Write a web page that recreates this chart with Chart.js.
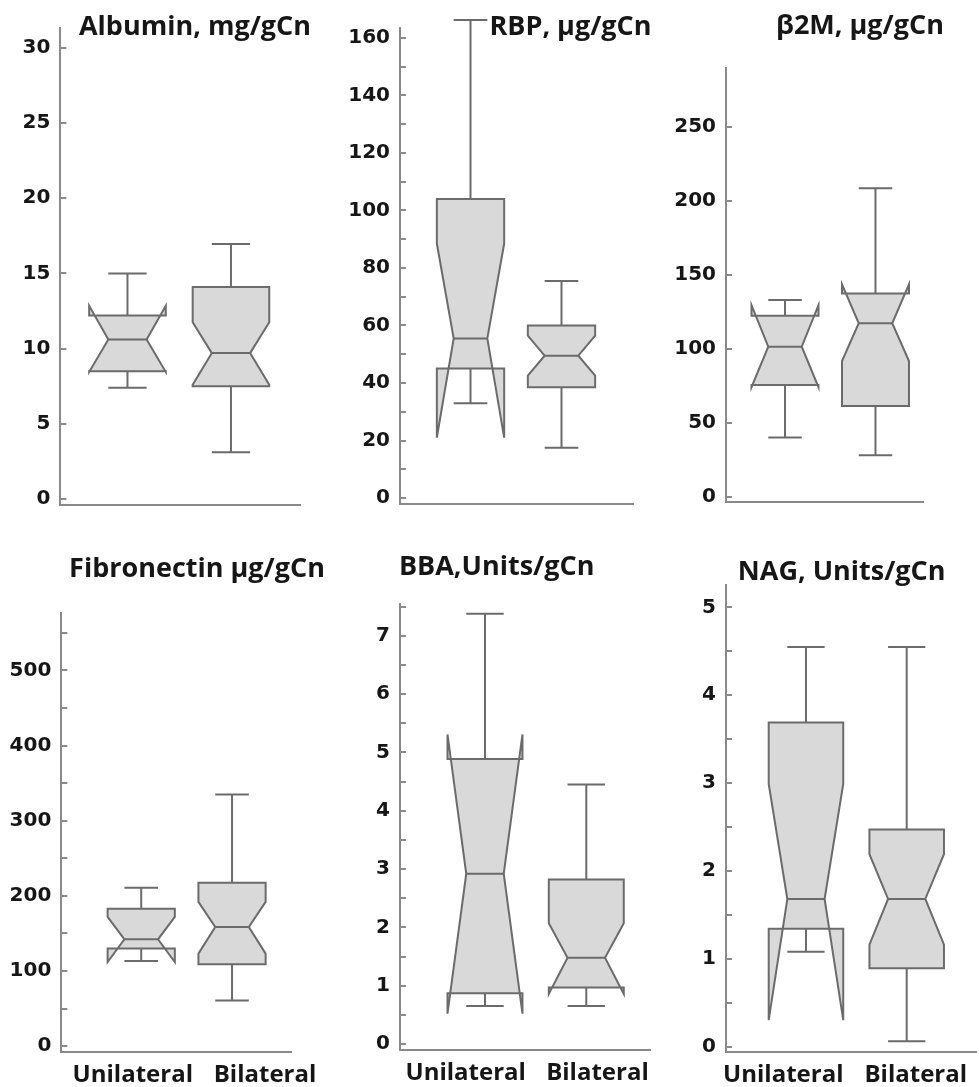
<!DOCTYPE html>
<html>
<head>
<meta charset="utf-8">
<script src="https://cdn.jsdelivr.net/npm/chart.js@4.4.1/dist/chart.umd.min.js"></script>
<style>
  html, body { margin: 0; padding: 0; background: #fff; }
  #wrap { position: relative; width: 979px; height: 1087px; }
  #wrap canvas { position: absolute; left: 0; top: 0; }
</style>
</head>
<body>
<div id="wrap"></div>
<script>
const groups = ["Unilateral", "Bilateral"];
const titles = ["Albumin, mg/gCn", "RBP, µg/gCn", "β2M, µg/gCn",
  "Fibronectin µg/gCn", "BBA,Units/gCn", "NAG, Units/gCn"];

// one pair per panel: [Unilateral, Bilateral]
const whiskerLow  = [[7.4, 3.1], [33, 17.5], [40, 28], [113.5, 61], [0.65, 0.65], [1.08, 0.06]];
const quart1      = [[8.5, 7.5], [45, 38.5], [75.5, 61.3], [130, 109], [0.87, 0.97], [1.34, 0.89]];
const notchLow    = [[8.45, 7.6], [21, 42.6], [74, 91.7], [112, 123.2], [0.52, 0.86], [0.3, 1.16]];
const medians     = [[10.6, 9.7], [55.5, 49.5], [101.4, 117.2], [142.3, 158.7], [2.92, 1.48], [1.68, 1.68]];
const notchHigh   = [[12.85, 11.75], [88.5, 56.5], [129.5, 143.5], [172, 192], [5.31, 2.07], [2.99, 2.19]];
const quart3      = [[12.2, 14.1], [104, 60], [122.3, 137.4], [183, 217.6], [4.89, 2.82], [3.69, 2.47]];
const whiskerHigh = [[15, 16.95], [166.2, 75.5], [133, 208.4], [211, 335], [7.38, 4.45], [4.55, 4.55]];

const yMajor = [
  [0, 5, 10, 15, 20, 25, 30],
  [0, 20, 40, 60, 80, 100, 120, 140, 160],
  [0, 50, 100, 150, 200, 250],
  [0, 100, 200, 300, 400, 500],
  [0, 1, 2, 3, 4, 5, 6, 7],
  [0, 1, 2, 3, 4, 5]
];
const yMinor = [
  [],
  [10, 30, 50, 70, 90, 110, 130, 150],
  [],
  [50, 150, 250, 350, 450, 550],
  [0.5, 1.5, 2.5, 3.5, 4.5, 5.5, 6.5, 7.5],
  [0.5, 1.5, 2.5, 3.5, 4.5]
];

// layout: plot area in page px [left, top, right, bottom], axis ranges, title anchor
const plotBox = [[60.3, 25, 300, 505], [400, 26, 633, 504], [726, 68, 923, 502],
  [61.3, 613.4, 291.7, 1052], [400, 603.8, 650, 1050], [726, 585, 976.7, 1051.8]];
const yRange = [[-0.4, 31.32], [-2.08, 163.46], [-3.58, 289.7],
  [-7.6, 575.7], [-0.103, 7.55], [-0.06, 5.255]];
const xRange = [[0.351, 2.667], [0.225, 2.786], [0.348, 2.525],
  [0.12, 2.657], [0.161, 2.629], [0.206, 2.695]];
const titleAt = [[195, 35], [570.5, 35], [860, 34], [197, 577], [496.7, 575.4], [841.7, 579.7]];
const labelAt = [null, null, null, [0.907, 2.363], [0.81, 2.11], [0.775, 2.09]];

const textColor = "#161616";
const axisColor = "#8a8a8a";
const boxLine = "#6b6b6b";
const boxFill = "#d9d9d9";

Chart.defaults.font.family = "DejaVu Sans";

const notchBoxes = {
  id: "notchBoxes",
  afterDatasetsDraw(chart, args, opts) {
    const { ctx, scales: { x, y } } = chart;
    const py = v => y.getPixelForValue(v);
    chart.data.datasets[0].data.forEach(b => {
      const xc = x.getPixelForValue(b.x);
      const half = x.getPixelForValue(b.x + opts.boxWidth / 2) - xc;
      const xl = xc - half, xr = xc + half;
      const inL = xc - half / 2, inR = xc + half / 2;
      ctx.save();
      ctx.lineWidth = 2;
      ctx.strokeStyle = boxLine;
      ctx.fillStyle = boxFill;
      ctx.lineJoin = "miter";
      ctx.beginPath();
      ctx.moveTo(xl, py(b.q1));
      ctx.lineTo(xl, py(b.nlo));
      ctx.lineTo(inL, py(b.med));
      ctx.lineTo(xl, py(b.nhi));
      ctx.lineTo(xl, py(b.q3));
      ctx.lineTo(xr, py(b.q3));
      ctx.lineTo(xr, py(b.nhi));
      ctx.lineTo(inR, py(b.med));
      ctx.lineTo(xr, py(b.nlo));
      ctx.lineTo(xr, py(b.q1));
      ctx.closePath();
      ctx.fill();
      ctx.stroke();
      // median and whiskers
      ctx.beginPath();
      ctx.moveTo(inL, py(b.med)); ctx.lineTo(inR, py(b.med));
      ctx.moveTo(xc, py(b.q3)); ctx.lineTo(xc, py(b.hi));
      ctx.moveTo(inL, py(b.hi)); ctx.lineTo(inR, py(b.hi));
      ctx.moveTo(xc, py(b.q1)); ctx.lineTo(xc, py(b.lo));
      ctx.moveTo(inL, py(b.lo)); ctx.lineTo(inR, py(b.lo));
      ctx.stroke();
      ctx.restore();
    });
  }
};

const panelTitle = {
  id: "panelTitle",
  afterDraw(chart, args, opts) {
    const ctx = chart.ctx;
    ctx.save();
    ctx.font = 'bold 27px "Open Sans"';
    ctx.fillStyle = textColor;
    ctx.textAlign = "center";
    ctx.textBaseline = "alphabetic";
    ctx.fillText(opts.text, opts.x, opts.y);
    ctx.restore();
  }
};

const wrap = document.getElementById("wrap");

titles.forEach((title, p) => {
  const canvas = document.createElement("canvas");
  canvas.width = 979;
  canvas.height = 1087;
  wrap.appendChild(canvas);

  const [L, T, R, B] = plotBox[p];
  const bottomRow = labelAt[p] !== null;
  const yAxisW = 56;
  const xAxisH = bottomRow ? 35 : 0;

  const boxes = groups.map((g, i) => ({
    x: i + 1, y: medians[p][i],
    lo: whiskerLow[p][i], q1: quart1[p][i], nlo: notchLow[p][i], med: medians[p][i],
    nhi: notchHigh[p][i], q3: quart3[p][i], hi: whiskerHigh[p][i]
  }));

  new Chart(canvas, {
    type: "scatter",
    data: { datasets: [{ data: boxes, pointRadius: 0, pointHoverRadius: 0 }] },
    options: {
      responsive: false,
      animation: false,
      events: [],
      layout: { padding: { left: L - yAxisW, top: T, right: 979 - R, bottom: 1087 - B - xAxisH } },
      plugins: {
        legend: { display: false },
        tooltip: { enabled: false },
        notchBoxes: { boxWidth: 0.74 },
        panelTitle: { text: title, x: titleAt[p][0], y: titleAt[p][1] }
      },
      scales: {
        x: {
          type: "linear",
          min: xRange[p][0],
          max: xRange[p][1],
          afterFit: s => { s.height = xAxisH; },
          afterBuildTicks: s => {
            if (bottomRow) s.ticks = labelAt[p].map(v => ({ value: v }));
          },
          grid: { display: false, drawTicks: false },
          border: { display: true, color: axisColor, width: 2 },
          ticks: {
            display: bottomRow,
            autoSkip: false,
            maxRotation: 0,
            padding: 9,
            color: textColor,
            font: { family: "Open Sans", weight: "bold", size: 24 },
            callback: (v, i) => groups[i]
          }
        },
        y: {
          type: "linear",
          min: yRange[p][0],
          max: yRange[p][1],
          afterFit: s => { s.width = yAxisW; },
          afterBuildTicks: s => {
            s.ticks = yMajor[p].concat(yMinor[p]).sort((a, b) => a - b).map(v => ({ value: v }));
          },
          grid: { drawOnChartArea: false, drawTicks: true, tickLength: -6, color: axisColor, lineWidth: 2 },
          border: { display: true, color: axisColor, width: 2 },
          ticks: {
            autoSkip: false,
            padding: 16,
            color: textColor,
            font: { family: "DejaVu Sans", weight: "bold", size: 20 },
            callback: v => (yMajor[p].includes(v) ? String(v) : "")
          }
        }
      }
    },
    plugins: [notchBoxes, panelTitle]
  });
});
</script>
</body>
</html>
